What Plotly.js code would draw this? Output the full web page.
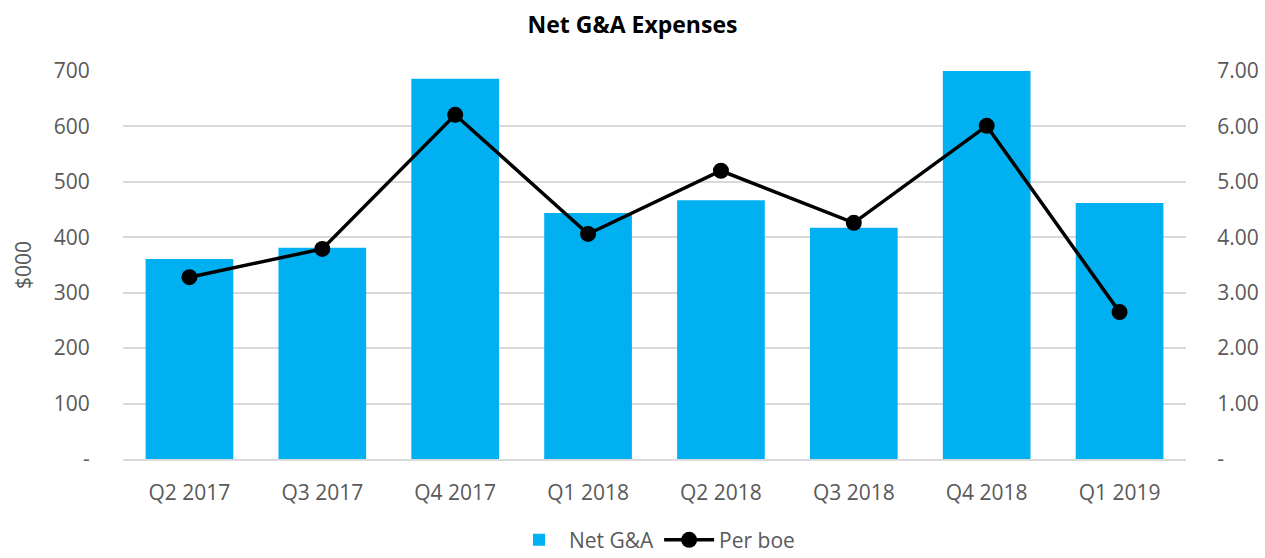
<!DOCTYPE html>
<html>
<head>
<meta charset="utf-8">
<script src="https://cdn.plot.ly/plotly-3.0.1.min.js"></script>
<style>
  html, body { margin: 0; padding: 0; background: #fff; }
  #chart { width: 1265px; height: 558px; }
</style>
</head>
<body>
<div id="chart"></div>
<script>
var quarters = ['Q2 2017', 'Q3 2017', 'Q4 2017', 'Q1 2018', 'Q2 2018', 'Q3 2018', 'Q4 2018', 'Q1 2019'];
var netGA = [361, 381, 686, 444, 467, 417, 700, 462];
var perBoe = [3.28, 3.79, 6.21, 4.06, 5.20, 4.26, 6.01, 2.65];
var leftTicks = [0, 100, 200, 300, 400, 500, 600, 700];
var leftLabels = ['-', '100', '200', '300', '400', '500', '600', '700'];
var rightTicks = [0, 1, 2, 3, 4, 5, 6, 7];
var rightLabels = ['-', '1.00', '2.00', '3.00', '4.00', '5.00', '6.00', '7.00'];

var bar = {
    x: quarters,
    y: netGA,
    type: 'bar',
    name: 'Net G&A',
    marker: {color: '#00B0F0'},
    yaxis: 'y'
};
var line = {
    x: quarters,
    y: perBoe,
    type: 'scatter',
    mode: 'lines+markers',
    name: 'Per boe',
    line: {color: '#000000', width: 3.5},
    marker: {color: '#000000', size: 16},
    yaxis: 'y2'
};

var layout = {
    width: 1265,
    height: 558,
    margin: {l: 123, r: 79, t: 71, b: 99},
    paper_bgcolor: '#fff',
    plot_bgcolor: '#fff',
    font: {family: 'Open Sans, Noto Sans, sans-serif', size: 21, color: '#595959'},
    title: {
        text: '<b>Net G&A Expenses</b>',
        font: {size: 23, color: '#000000'},
        x: 0.5, xanchor: 'center',
        y: 0.955, yanchor: 'middle'
    },
    bargap: 0.34,
    xaxis: {
        automargin: false,
        showgrid: false,
        showline: true,
        linecolor: '#d9d9d9',
        linewidth: 1.5,
        ticks: 'outside',
        ticklen: 14,
        tickcolor: 'rgba(0,0,0,0)',
        tickfont: {size: 21, color: '#595959'}
    },
    yaxis: {
        automargin: false,
        range: [0, 700],
        tickvals: leftTicks,
        ticktext: leftLabels,
        showgrid: true,
        gridcolor: '#d9d9d9',
        gridwidth: 1.5,
        zeroline: false,
        ticks: 'outside',
        ticklen: 28,
        tickcolor: 'rgba(0,0,0,0)',
        title: {text: '$000', font: {size: 21, color: '#595959'}, standoff: 16},
        tickfont: {size: 21, color: '#595959'}
    },
    yaxis2: {
        automargin: false,
        range: [0, 7],
        overlaying: 'y',
        side: 'right',
        tickvals: rightTicks,
        ticktext: rightLabels,
        showgrid: false,
        zeroline: false,
        ticks: 'outside',
        ticklen: 26,
        tickcolor: 'rgba(0,0,0,0)',
        tickfont: {size: 21, color: '#595959'}
    },
    showlegend: true,
    legend: {
        orientation: 'h',
        yref: 'container',
        x: 0.5, xanchor: 'center',
        y: 0.032, yanchor: 'middle',
        font: {size: 21, color: '#595959'},
        itemwidth: 50,
        traceorder: 'normal'
    }
};

Plotly.newPlot(document.getElementById('chart'), [bar, line], layout, {displayModeBar: false});
</script>
</body>
</html>
